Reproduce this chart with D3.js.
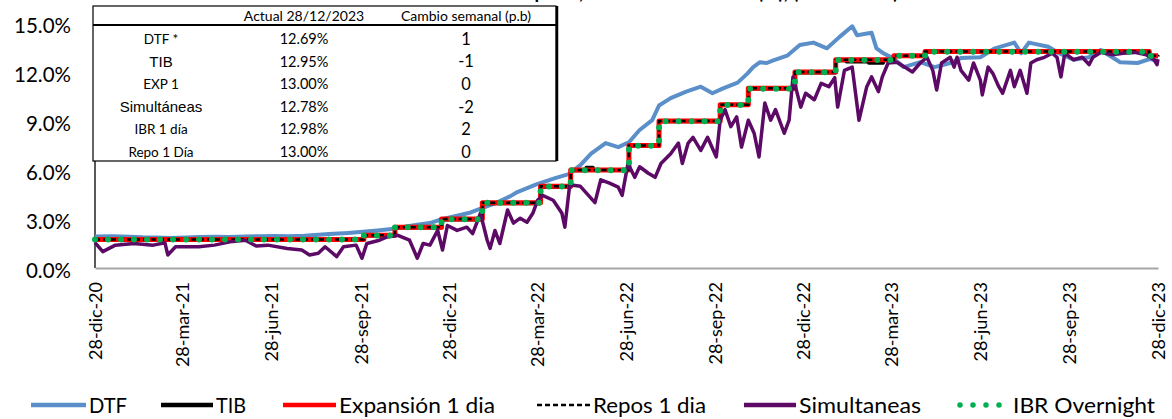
<!DOCTYPE html>
<html><head><meta charset="utf-8">
<script src="https://cdn.jsdelivr.net/npm/d3@7"></script>
<style>body{margin:0;background:#fff}svg{display:block}</style>
</head><body>
<svg id="c" width="1172" height="419"></svg>
<script>
// ---------------- DATA ----------------
const seriesNames = ["DTF","TIB","Expansión 1 dia","Repos 1 dia","Simultaneas","IBR Overnight"];
const yTicks = [0,3,6,9,12,15];
const xTickDates = ["2020-12-28","2021-03-28","2021-06-28","2021-09-28","2021-12-28","2022-03-28","2022-06-28","2022-09-28","2022-12-28","2023-03-28","2023-06-28","2023-09-28","2023-12-28"];
const monthsEs = ["ene","feb","mar","abr","may","jun","jul","ago","sep","oct","nov","dic"];

const dtf = [
["2020-12-28",1.93],["2021-01-15",1.95],["2021-02-01",1.92],["2021-02-15",1.88],["2021-03-01",1.86],["2021-03-15",1.84],
["2021-04-01",1.87],["2021-04-15",1.90],["2021-05-01",1.92],["2021-05-15",1.90],["2021-06-01",1.93],["2021-06-15",1.95],
["2021-07-01",1.96],["2021-07-15",1.95],["2021-08-01",1.98],["2021-08-26",2.08],["2021-09-15",2.15],["2021-09-30",2.22],
["2021-10-15",2.30],["2021-11-01",2.40],["2021-11-09",2.50],["2021-11-25",2.65],["2021-12-08",2.75],["2021-12-18",2.95],
["2022-01-05",3.20],["2022-01-19",3.40],["2022-02-01",3.70],["2022-02-15",4.00],["2022-03-01",4.40],["2022-03-08",4.65],
["2022-03-27",5.10],["2022-04-16",5.50],["2022-04-30",5.75],["2022-05-12",6.30],["2022-05-23",7.00],["2022-06-07",7.65],
["2022-06-20",7.40],["2022-07-01",7.70],["2022-07-12",8.45],["2022-07-25",9.05],["2022-08-01",9.95],["2022-08-13",10.40],
["2022-08-29",10.80],["2022-09-13",11.10],["2022-09-25",10.70],["2022-10-06",11.00],["2022-10-21",11.35],["2022-10-31",11.90],
["2022-11-06",12.30],["2022-11-13",12.60],["2022-11-20",12.55],["2022-11-26",12.70],["2022-12-11",13.00],["2022-12-24",13.65],
["2023-01-07",13.80],["2023-01-21",13.45],["2023-02-03",14.15],["2023-02-16",14.80],["2023-02-21",14.25],["2023-03-08",14.40],
["2023-03-13",13.45],["2023-03-20",13.15],["2023-03-30",12.85],["2023-04-10",12.30],["2023-04-27",12.60],["2023-05-12",12.30],
["2023-05-28",12.55],["2023-06-08",12.85],["2023-06-28",12.90],["2023-07-13",13.45],["2023-08-02",13.80],["2023-08-09",13.15],
["2023-08-17",13.80],["2023-09-06",13.55],["2023-09-17",13.15],["2023-10-02",12.75],["2023-10-18",12.90],["2023-10-30",13.35],
["2023-11-19",12.60],["2023-12-07",12.55],["2023-12-20",12.80],["2023-12-28",12.69]
];

const tib = [
["2020-12-28",1.74],["2021-10-01",1.98],["2021-11-02",2.47],["2021-12-20",2.96],["2022-01-31",3.95],["2022-04-01",4.96],
["2022-05-02",5.97],["2022-05-18",6.15],["2022-05-25",5.98],["2022-07-01",7.45],["2022-08-01",8.97],["2022-10-03",9.97],
["2022-11-01",10.97],["2022-12-19",11.95],["2023-01-30",12.70],["2023-02-10",12.62],["2023-03-05",12.55],["2023-03-20",12.70],
["2023-03-31",12.97],["2023-05-02",13.23],["2023-12-19",12.96],["2023-12-28",12.95]
];

const expansion = [
["2020-12-28",1.75],["2021-10-01",2.00],["2021-11-02",2.50],["2021-12-20",3.00],["2022-01-31",4.00],["2022-04-01",5.00],
["2022-05-02",6.00],["2022-07-01",7.50],["2022-08-01",9.00],["2022-10-03",10.00],["2022-11-01",11.00],["2022-12-19",12.00],
["2023-01-30",12.75],["2023-03-31",13.00],["2023-05-02",13.25],["2023-12-19",13.00],["2023-12-28",13.00]
];

const repos = [
["2020-12-28",1.75],["2021-10-01",2.00],["2021-11-02",2.50],["2021-12-20",3.00],["2022-01-31",4.00],["2022-04-01",5.00],
["2022-05-02",6.00],["2022-07-01",7.50],["2022-08-01",9.00],["2022-10-03",10.00],["2022-11-01",11.00],["2022-12-19",12.00],
["2023-01-30",12.75],["2023-03-31",13.00],["2023-05-02",13.25],["2023-12-19",13.00],["2023-12-28",13.00]
];

const simultaneas = [
["2020-12-28",1.55],["2021-01-05",1.00],["2021-01-18",1.40],["2021-02-06",1.50],["2021-02-26",1.40],["2021-03-10",1.55],
["2021-03-13",0.80],["2021-03-21",1.30],["2021-04-14",1.30],["2021-04-30",1.40],["2021-05-16",1.60],["2021-06-01",1.70],
["2021-06-12",1.35],["2021-06-24",1.40],["2021-07-14",1.20],["2021-07-29",1.10],["2021-08-06",0.80],["2021-08-15",0.90],
["2021-08-22",1.30],["2021-09-03",0.70],["2021-09-10",1.30],["2021-09-23",1.40],["2021-09-29",0.60],["2021-10-04",1.50],
["2021-10-17",1.70],["2021-10-25",1.90],["2021-11-05",2.00],["2021-11-17",1.70],["2021-11-25",0.60],["2021-12-01",1.50],
["2021-12-08",1.40],["2021-12-16",2.30],["2021-12-21",1.10],["2021-12-26",2.60],["2022-01-05",2.30],["2022-01-15",2.50],
["2022-01-21",2.10],["2022-01-29",3.35],["2022-02-05",1.70],["2022-02-08",1.20],["2022-02-13",2.30],["2022-02-18",1.50],
["2022-02-26",3.55],["2022-03-04",2.75],["2022-03-11",3.05],["2022-03-18",2.80],["2022-03-24",3.35],["2022-03-29",4.15],
["2022-04-03",4.45],["2022-04-14",4.15],["2022-04-23",3.35],["2022-04-26",2.50],["2022-05-01",5.10],["2022-05-12",5.00],
["2022-05-18",4.60],["2022-05-27",4.00],["2022-06-02",5.40],["2022-06-11",5.20],["2022-06-20",4.95],["2022-06-24",4.45],
["2022-06-30",6.40],["2022-07-07",5.55],["2022-07-12",6.20],["2022-07-21",5.80],["2022-07-28",5.55],["2022-08-03",6.40],
["2022-08-13",7.00],["2022-08-21",7.65],["2022-08-25",6.40],["2022-08-31",7.65],["2022-09-05",8.00],["2022-09-13",7.20],
["2022-09-20",8.00],["2022-09-29",6.80],["2022-10-03",9.05],["2022-10-08",9.70],["2022-10-14",8.65],["2022-10-20",9.25],
["2022-10-25",7.40],["2022-11-01",9.05],["2022-11-07",8.25],["2022-11-12",6.80],["2022-11-18",10.10],["2022-11-24",9.05],
["2022-11-29",9.70],["2022-12-08",8.25],["2022-12-13",9.05],["2022-12-17",11.70],["2022-12-25",9.85],["2022-12-30",10.70],
["2023-01-08",10.30],["2023-01-15",11.30],["2023-01-23",11.10],["2023-01-29",11.65],["2023-02-01",9.85],["2023-02-08",12.10],
["2023-02-16",12.30],["2023-02-23",9.05],["2023-03-03",11.10],["2023-03-08",11.70],["2023-03-15",10.80],["2023-03-19",11.70],
["2023-03-25",12.55],["2023-04-03",12.60],["2023-04-11",12.30],["2023-04-19",12.00],["2023-04-27",12.55],["2023-05-04",12.90],
["2023-05-10",12.10],["2023-05-14",10.90],["2023-05-19",12.55],["2023-05-28",12.90],["2023-06-01",12.30],["2023-06-04",12.90],
["2023-06-08",12.10],["2023-06-16",11.50],["2023-06-21",12.55],["2023-06-28",11.50],["2023-06-30",10.60],["2023-07-06",12.30],
["2023-07-11",11.90],["2023-07-17",11.10],["2023-07-21",10.70],["2023-07-29",12.10],["2023-08-02",11.10],["2023-08-08",12.10],
["2023-08-15",10.70],["2023-08-19",12.55],["2023-08-25",12.75],["2023-09-02",12.90],["2023-09-10",13.15],["2023-09-15",12.90],
["2023-09-19",11.70],["2023-09-23",13.15],["2023-10-02",12.75],["2023-10-11",12.90],["2023-10-18",12.45],["2023-10-22",12.90],
["2023-10-30",13.20],["2023-11-11",13.05],["2023-11-22",13.15],["2023-12-04",13.20],["2023-12-16",13.05],["2023-12-24",12.75],
["2023-12-27",12.45],["2023-12-28",12.78]
];

const ibr = [
["2020-12-28",1.74],["2021-10-01",1.99],["2021-11-02",2.49],["2021-12-20",2.99],["2022-01-31",3.99],["2022-04-01",4.99],
["2022-05-02",5.98],["2022-07-01",7.49],["2022-08-01",8.99],["2022-10-03",9.98],["2022-11-01",10.98],["2022-12-19",11.99],
["2023-01-30",12.74],["2023-03-31",12.99],["2023-05-02",13.24],["2023-12-19",12.98],["2023-12-28",12.98]
];

const tableHeaders = ["Actual 28/12/2023","Cambio semanal (p.b)"];
const tableRows = ["DTF *","TIB","EXP 1","Simultáneas","IBR 1 día","Repo 1 Día"];
const tableActual = ["12.69%","12.95%","13.00%","12.78%","12.98%","13.00%"];
const tableChange = ["1","-1","0","-2","2","0"];
const titleText = "Tasas de interés de corto plazo, mercado monetario (%), (2020-2023)";

// ---------------- DRAW ----------------
const svg = d3.select("#c");
const parse = d3.timeParse("%Y-%m-%d");
const fmtTick = d => `${d.getDate()}-${monthsEs[d.getMonth()]}-${String(d.getFullYear()).slice(2)}`;
const calib = "Lato, 'Open Sans', sans-serif";

const x = d3.scaleTime().domain([parse("2020-12-28"), parse("2023-12-28")]).range([95, 1158]);
const y = d3.scaleLinear().domain([0, 15]).range([268, 23]);

// title: only its lowest edge shows inside the picture, as in the reference
svg.append("text").attr("x", 610).attr("y", -1).attr("text-anchor","middle")
  .attr("font-family", calib).attr("font-weight","bold").attr("font-size",19).attr("fill","#000").text(titleText);

// y axis labels
const yAx = svg.append("g").attr("transform","translate(95,3)")
  .call(d3.axisLeft(y).tickValues(yTicks).tickSize(0).tickPadding(24).tickFormat(d => d.toFixed(1) + "%"));
yAx.select(".domain").remove();
yAx.selectAll("text").attr("font-family", calib).attr("font-size", 20.5).attr("fill","#000");

// left axis line
svg.append("line").attr("x1",95).attr("x2",95).attr("y1",y(15)).attr("y2",y(0)).attr("stroke","#222").attr("stroke-width",1.5);

// x axis
const xAx = svg.append("g").attr("transform", `translate(0,${y(0)})`)
  .call(d3.axisBottom(x).tickValues(xTickDates.map(parse)).tickSize(0).tickFormat(fmtTick));
xAx.select(".domain").attr("stroke","#a6a6a6").attr("stroke-width",2);
xAx.selectAll("text").attr("font-family", calib).attr("font-size", 18).attr("fill","#000")
  .attr("text-anchor","end").attr("dy",null).attr("y",0)
  .attr("transform","translate(0,14) rotate(-90)").attr("dx",0).attr("dy","0.35em");

const line = d3.line().x(d => x(parse(d[0]))).y(d => y(d[1]));
const step = d3.line().x(d => x(parse(d[0]))).y(d => y(d[1])).curve(d3.curveStepAfter);

const styles = [
  {data: dtf, gen: line, color:"#5b8fc9", w:4, dash:null, cap:"butt"},
  {data: tib, gen: step, color:"#000", w:3.5, dash:null, cap:"butt"},
  {data: expansion, gen: step, color:"#ff0000", w:5, dash:null, cap:"butt"},
  {data: repos, gen: step, color:"#000", w:2.5, dash:"5 3", cap:"butt"},
  {data: simultaneas, gen: line, color:"#5c0a66", w:3.5, dash:null, cap:"butt"},
  {data: ibr, gen: step, color:"#00b050", w:6, dash:"0 13", cap:"round"}
];
const plot = svg.append("g");
styles.forEach(s => {
  plot.append("path").attr("d", s.gen(s.data)).attr("fill","none").attr("stroke", s.color)
    .attr("stroke-width", s.w).attr("stroke-dasharray", s.dash).attr("stroke-linecap", s.cap)
    .attr("stroke-linejoin","round");
});

// table
const tbl = svg.append("g");
tbl.append("rect").attr("x",93).attr("y",6).attr("width",463).attr("height",155)
  .attr("fill","#fff").attr("stroke","#000").attr("stroke-width",1.2);
tbl.append("line").attr("x1",93).attr("x2",556).attr("y1",25).attr("y2",25).attr("stroke","#000").attr("stroke-width",1.8);
tbl.append("line").attr("x1",557).attr("x2",557).attr("y1",6).attr("y2",161).attr("stroke","#000").attr("stroke-width",2.5);
const colX = [161, 304, 466];
tableHeaders.forEach((h,i) => {
  tbl.append("text").attr("x", colX[i+1]).attr("y", 16).attr("dy","0.35em").attr("text-anchor","middle")
    .attr("font-family", calib).attr("font-size", 14).text(h);
});
const arial = new Set(["TIB","Simultáneas"]);
tableRows.forEach((r,i) => {
  const yy = 39 + i * 22.6;
  tbl.append("text").attr("x", colX[0]).attr("y", yy).attr("dy","0.35em").attr("text-anchor","middle")
    .attr("font-family", arial.has(r) ? "'Liberation Sans', Arial, sans-serif" : calib)
    .attr("font-size", arial.has(r) ? 15 : 13.5).text(r);
  tbl.append("text").attr("x", colX[1]).attr("y", yy).attr("dy","0.35em").attr("text-anchor","middle")
    .attr("font-family", calib).attr("font-size", 14.5).text(tableActual[i]);
  tbl.append("text").attr("x", colX[2]).attr("y", yy).attr("dy","0.35em").attr("text-anchor","middle")
    .attr("font-family", calib).attr("font-size", 16.5).text(tableChange[i]);
});

// legend
const legX = [31, 161, 283, 537, 744, 957];
const legW = [55, 52, 53, 53, 52, 44];
const legTextW = [38, 30, 156, 113, 122, 142];
const leg = svg.append("g").attr("transform","translate(0,405)");
styles.forEach((s,i) => {
  const g = leg.append("g");
  const isDash = s.dash === "5 3", isDot = s.cap === "round";
  g.append("line").attr("x1", legX[i] + (isDot ? 3 : 0)).attr("x2", legX[i] + legW[i]).attr("y1",0).attr("y2",0)
    .attr("stroke", s.color).attr("stroke-width", isDot ? 5.5 : (isDash ? 2.5 : 4.5))
    .attr("stroke-dasharray", isDot ? "0 13" : (isDash ? "5 3" : null)).attr("stroke-linecap", s.cap);
  g.append("text").attr("x", legX[i] + legW[i] + (isDot ? 12 : 3)).attr("y",0).attr("dy","0.36em")
    .attr("font-family", calib).attr("font-size", 21)
    .attr("textLength", legTextW[i]).attr("lengthAdjust","spacingAndGlyphs").text(seriesNames[i]);
});
</script>
</body></html>
